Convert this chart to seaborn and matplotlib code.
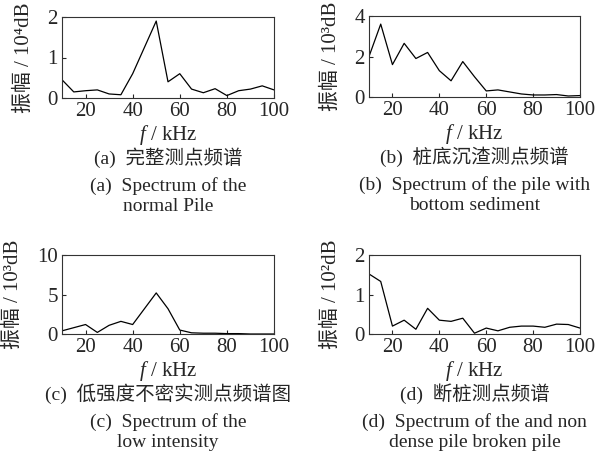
import matplotlib
matplotlib.use('Agg')
import matplotlib.pyplot as plt
import seaborn as sns
import pandas as pd

# frequency points (kHz)
freq = [10, 15, 20, 25, 30, 35, 40, 45, 50, 55, 60, 65, 70, 75, 80, 85, 90, 95, 100]

# amplitudes
amp_a = [0.45, 0.15, 0.18, 0.20, 0.10, 0.08, 0.60, 1.25, 1.90, 0.40, 0.60, 0.22, 0.13, 0.23, 0.06, 0.18, 0.22, 0.30, 0.20]
amp_b = [2.0, 3.6, 1.6, 2.65, 1.9, 2.2, 1.3, 0.8, 1.75, 1.0, 0.3, 0.35, 0.25, 0.15, 0.1, 0.1, 0.12, 0.05, 0.07]
amp_c = [0.4, 0.8, 1.2, 0.2, 1.1, 1.6, 1.2, 3.2, 5.2, 3.2, 0.5, 0.15, 0.1, 0.1, 0.05, 0.05, 0.0, 0.0, 0.0]
amp_d = [1.52, 1.33, 0.2, 0.35, 0.12, 0.65, 0.35, 0.32, 0.4, 0.02, 0.15, 0.08, 0.17, 0.2, 0.2, 0.17, 0.25, 0.24, 0.15]

ylabels = ['振幅 / 10⁴dB', '振幅 / 10³dB', '振幅 / 10³dB', '振幅 / 10²dB']
yticks = [[0, 1, 2], [0, 2, 4], [0, 5, 10], [0, 1, 2]]
cn_titles = ['(a)  完整测点频谱', '(b)  桩底沉渣测点频谱', '(c)  低强度不密实测点频谱图', '(d)  断桩测点频谱']
en_titles = ['(a)  Spectrum of the\nnormal Pile', '(b)  Spectrum of the pile with\nbottom sediment',
             '(c)  Spectrum of the\nlow intensity', '(d)  Spectrum of the and non\ndense pile broken pile']

sns.set_style('ticks')
plt.rcParams['font.family'] = ['Liberation Serif', 'Noto Sans CJK SC']
plt.rcParams['mathtext.fontset'] = 'custom'
plt.rcParams['mathtext.it'] = 'Liberation Serif:italic'
plt.rcParams['mathtext.rm'] = 'Liberation Serif'

fig = plt.figure(figsize=(6.02, 4.71), dpi=100)

W, H = 602, 471
# axes boxes in pixels: left, top, right, bottom
boxes = [(62, 17, 274, 98), (369, 16, 580, 97), (62, 255, 274, 334), (369, 255, 580, 334)]
series = [amp_a, amp_b, amp_c, amp_d]

for i, (l, t, r, b) in enumerate(boxes):
    ax = fig.add_axes([l / W, 1 - b / H, (r - l) / W, (b - t) / H])
    df = pd.DataFrame({'f': freq, 'amp': series[i]})
    sns.lineplot(data=df, x='f', y='amp', ax=ax, color='black', linewidth=0.9)
    ax.set_xlim(10, 100)
    ax.set_ylim(yticks[i][0], yticks[i][-1])
    ax.set_xticks([20, 40, 60, 80, 100])
    ax.set_yticks(yticks[i])
    ax.tick_params(direction='in', length=3, width=0.8, labelsize=15, pad=3)
    for s in ax.spines.values():
        s.set_linewidth(0.8)
        s.set_color('#333333')
        s.set_visible(True)
    ax.set_xlabel('$f$ / kHz', fontsize=15, labelpad=1)
    ax.set_ylabel(ylabels[i], fontsize=15, labelpad=10)

    cx = (l + r) / 2 / W
    fig.text(cx, 1 - (b + 60) / H, cn_titles[i], ha='center', va='center', fontsize=14)
    fig.text(cx, 1 - (b + 98) / H, en_titles[i], ha='center', va='center', fontsize=14,
             linespacing=1.2)

fig.savefig('out.png', dpi=100)
